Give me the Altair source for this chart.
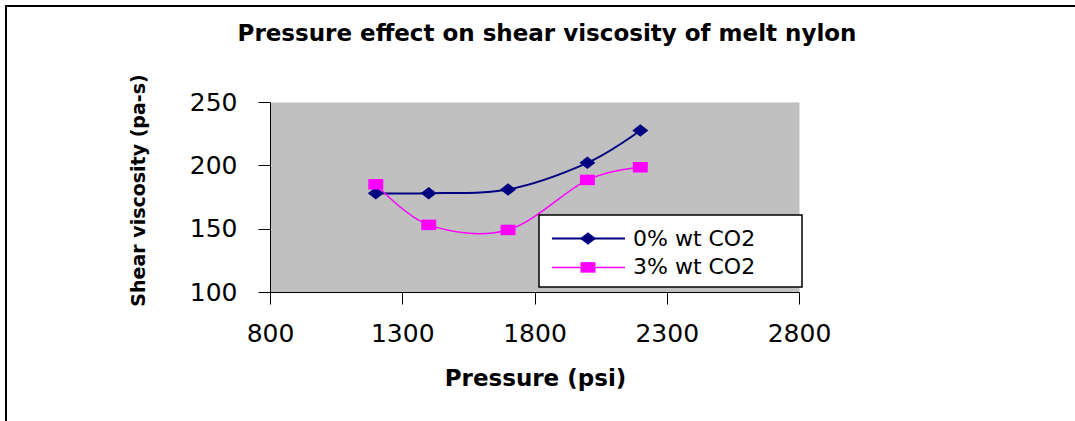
import altair as alt
import pandas as pd

# ---- data ----
pressure = [1200, 1400, 1700, 2000, 2200]
visc_0 = [178, 178, 181, 202, 227.5]
visc_3 = [185, 153, 149, 188.5, 198.5]
series_names = ["0% wt CO2", "3% wt CO2"]
x_ticks = [800, 1300, 1800, 2300, 2800]
y_ticks = [100, 150, 200, 250]
title_text = "Pressure effect on shear viscosity of melt nylon"
x_title = "Pressure (psi)"
y_title = "Shear viscosity (pa-s)"

# ---- styles ----
colors = ["#000080", "#FF00FF"]
shapes = ["M-1,0L0,-0.78L1,0L0,0.78Z", "M-1,-0.7L1,-0.7L1,0.7L-1,0.7Z"]
marker_sizes = [256, 225]
line_widths = [2, 1.5]
FONT = "DejaVu Sans"

df = pd.DataFrame({
    "pressure": pressure * 2,
    "viscosity": visc_0 + visc_3,
    "series": [series_names[0]] * len(pressure) + [series_names[1]] * len(pressure),
})
legend_df = pd.DataFrame({"series": series_names})
one = pd.DataFrame({"t": [0]})

W, H = 529, 190
PL, PT = 270, 102
TOTAL_W, TOTAL_H = 1075, 421

color_enc = alt.Color("series:N", scale=alt.Scale(domain=series_names, range=colors), legend=None)
shape_enc = alt.Shape("series:N", scale=alt.Scale(domain=series_names, range=shapes), legend=None)
size_enc = alt.Size("series:N", scale=alt.Scale(domain=series_names, range=marker_sizes), legend=None)
sw_enc = alt.StrokeWidth("series:N", scale=alt.Scale(domain=series_names, range=line_widths), legend=None)

x_enc = alt.X(
    "pressure:Q",
    scale=alt.Scale(domain=[800, 2800], nice=False, zero=False),
    axis=alt.Axis(values=x_ticks, format="d", title=x_title, labelFlush=False, labelOverlap=False,
                  tickSize=12, labelPadding=29, labelBaseline="middle",
                  titleX=265, titleY=86, titleBaseline="middle", titleAlign="center",
                  titleFontSize=23),
)
y_enc = alt.Y(
    "viscosity:Q",
    scale=alt.Scale(domain=[100, 250], nice=False, zero=False),
    axis=alt.Axis(values=y_ticks, format="d", title=y_title, tickSize=12, labelPadding=21,
                  titleX=-132, titleY=88, titleAngle=270, titleBaseline="middle",
                  titleAlign="center", titleFontSize=19),
)

# outer chart frame: only the top and left edges fall inside the picture
frame_top = alt.Chart(one).mark_rule(color="black", strokeWidth=2).encode(
    x=alt.value(5 - PL), x2=alt.value(TOTAL_W - PL), y=alt.value(6 - PT),
)
frame_left = alt.Chart(one).mark_rule(color="black", strokeWidth=2).encode(
    x=alt.value(6 - PL), y=alt.value(5 - PT), y2=alt.value(TOTAL_H - PT),
)

title_mark = alt.Chart(one).mark_text(
    text=title_text, font=FONT, fontSize=23, fontWeight="bold", color="black",
    align="center", baseline="middle",
).encode(x=alt.value(547 - PL), y=alt.value(34 - PT))

lines = alt.Chart(df).mark_line(interpolate="cardinal").encode(
    x=x_enc, y=y_enc, color=color_enc, strokeWidth=sw_enc,
)
points = alt.Chart(df).mark_point(filled=True, opacity=1).encode(
    x=x_enc, y=y_enc, color=color_enc, shape=shape_enc, size=size_enc,
)
data_layer = alt.layer(lines, points)

# legend rows at 235 and 271 px (point scale with half-step outer padding)
ly = alt.Y("series:N", scale=alt.Scale(domain=series_names, range=[217 - PT, 289 - PT], padding=0.5), axis=None)
legend_box = alt.Chart(one).mark_rect(fill="white", stroke="black", strokeWidth=1.5).encode(
    x=alt.value(539 - PL), x2=alt.value(802 - PL),
    y=alt.value(215 - PT), y2=alt.value(287 - PT),
)
legend_rules = alt.Chart(legend_df).mark_rule().encode(
    x=alt.value(552 - PL), x2=alt.value(625 - PL), y=ly, color=color_enc, strokeWidth=sw_enc,
)
legend_pts = alt.Chart(legend_df).mark_point(filled=True, opacity=1).encode(
    x=alt.value(588 - PL), y=ly, color=color_enc, shape=shape_enc, size=size_enc,
)
legend_txt = alt.Chart(legend_df).mark_text(
    align="left", baseline="middle", font=FONT, fontSize=22, color="black",
).encode(x=alt.value(633 - PL), y=ly, text="series:N")
legend_layer = alt.layer(legend_box, legend_rules, legend_pts, legend_txt)

chart = (
    alt.layer(frame_top, frame_left, title_mark, data_layer, legend_layer)
    .resolve_scale(y="independent")
    .properties(
        width=W, height=H,
        autosize=alt.AutoSizeParams(type="none"),
        padding={"left": PL, "top": PT, "right": TOTAL_W - PL - W, "bottom": TOTAL_H - PT - H},
        background="white",
    )
    .configure_view(fill="#C0C0C0", stroke="transparent")
    .configure_axis(
        grid=False, domainColor="black", domainWidth=1, tickColor="black", tickWidth=1,
        labelColor="black", labelFont=FONT, labelFontSize=25,
        titleColor="black", titleFont=FONT, titleFontWeight="bold",
    )
)

chart.save("out.html", embed_options={"renderer": "svg", "actions": False})
